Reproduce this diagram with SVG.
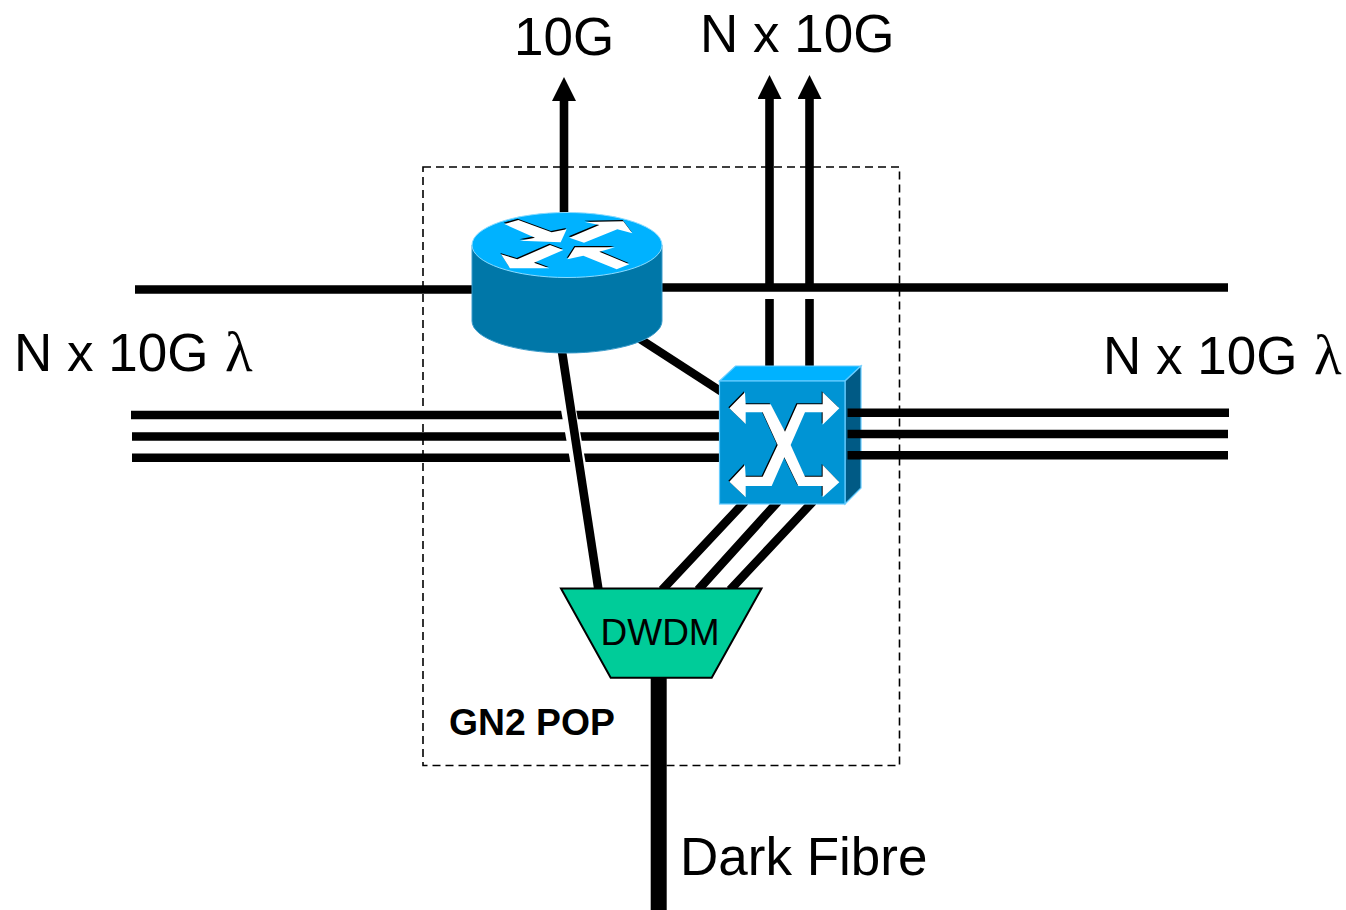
<svg xmlns="http://www.w3.org/2000/svg" width="1346" height="910" viewBox="0 0 1346 910">
<style>
text{font-family:"Liberation Sans",Arial,sans-serif;fill:#000}
.big{font-size:53px}
.lam{font-family:"Liberation Serif","DejaVu Serif",serif;font-size:57px}
.w{stroke:#000;stroke-width:8.6;fill:none}
.halo{stroke:#fff;fill:none}
</style>
<defs>
<marker id="arrow" markerUnits="userSpaceOnUse" markerWidth="24" markerHeight="24" viewBox="0 0 24 24" refX="1" refY="12" orient="auto"><path d="M0 0L24 12L0 24Z" fill="#000"/></marker>
</defs>
<g id="pop-box"><rect x="423" y="167" width="476.5" height="598.5" fill="none" stroke="#000" stroke-width="1.6" stroke-dasharray="8 5"/></g>
<g id="connectors">
<path class="w" d="M564 213V100" marker-end="url(#arrow)"/>
<path class="w" d="M769.5 284V98" marker-end="url(#arrow)"/>
<path class="w" d="M809.5 284V98" marker-end="url(#arrow)"/>
<path class="w" d="M135 289.5H480"/>
<path class="w" d="M650 287.5H1228"/>
<path class="w" d="M769.5 299V377M809.5 299V377"/>
<path class="w" d="M131 415H725M132 436.5H725M132 457.8H725"/>
<path class="halo" stroke-width="15" d="M567.7 405L579 468"/>
<path class="w" d="M561 345L598.5 590"/>
<path class="w" d="M640 339L725 394"/>
<path class="w" d="M745 501.5L662 590M778 501.5L698 590M813 501.5L730 590"/>
<path stroke="#000" stroke-width="16" fill="none" d="M658.7 670V910"/>
</g>
<g id="router">
<path d="M472 245V321A95 32 0 0 0 662 321V245Z" fill="#0077A8"/>
<path d="M472 245V321A95 32 0 0 0 662 321V245" fill="none" stroke="#3C9CCB" stroke-width="1"/>
<ellipse cx="567" cy="245" rx="95" ry="32.5" fill="#00B2FF" stroke="#8ADBFF" stroke-width="1"/>
<g transform="translate(460 200) scale(.33333)">
<g fill="#000" transform="translate(-2 -4)">
<polygon points="133,72 175,60 275,97 320,88 302,127 180,122 225,113"/>
<polygon points="328,113 418,75 375,66 490,64 517,100 472,88 372,128"/>
<polygon points="310,150 270,135 172,178 123,163 150,205 268,205 222,188"/>
<polygon points="322,178 345,142 465,142 418,155 508,193 470,208 370,167"/>
</g>
<g fill="#fff">
<polygon points="133,72 175,60 275,97 320,88 302,127 180,122 225,113"/>
<polygon points="328,113 418,75 375,66 490,64 517,100 472,88 372,128"/>
<polygon points="310,150 270,135 172,178 123,163 150,205 268,205 222,188"/>
<polygon points="322,178 345,142 465,142 418,155 508,193 470,208 370,167"/>
</g>
</g>
</g>
<g id="switch">
<polygon points="719.5,381 735.5,366 861,366 845,381" fill="#00B2FF" stroke="#66CCFF" stroke-width="1.2"/>
<polygon points="845,381 861,366 861,488 845,504" fill="#005A85" stroke="#66CCFF" stroke-width="1.2"/>
<rect x="719.5" y="381" width="125.5" height="123" fill="#0094D4" stroke="#66CCFF" stroke-width="1.2"/>
<g transform="translate(700 350) scale(.33333)">
<polygon fill="#000" transform="translate(-3 -3)" points="88,175 135,127 137,163 212,163 255,245 292,163 368,163 368,127 418,175 368,224 368,187 315,187 272,285 315,380 368,380 368,345 418,397 368,442 368,408 295,408 253,322 215,408 137,408 137,442 88,395 135,345 137,380 188,380 233,285 188,187 137,187 137,222"/>
<polygon fill="#fff" points="88,175 135,127 137,163 212,163 255,245 292,163 368,163 368,127 418,175 368,224 368,187 315,187 272,285 315,380 368,380 368,345 418,397 368,442 368,408 295,408 253,322 215,408 137,408 137,442 88,395 135,345 137,380 188,380 233,285 188,187 137,187 137,222"/>
</g>
</g>
<g id="wave-lines-right"><path class="w" d="M847.5 412.7H1229M847.5 434H1228M847.5 455.3H1228"/></g>
<g id="dwdm">
<polygon points="561,588.5 761.5,588.5 711.7,677.7 610.7,677.7" fill="#00CC99" stroke="#000" stroke-width="2"/>
<text x="600.5" y="645" font-size="37">DWDM</text>
</g>
<g id="labels">
<text class="big" x="514" y="54.5">10G</text>
<text class="big" x="700" y="52">N x 10G</text>
<text class="big" x="14" y="371">N x 10G <tspan class="lam" x="225">λ</tspan></text>
<text class="big" x="1103" y="374">N x 10G <tspan class="lam" x="1314">λ</tspan></text>
<text class="big" x="680" y="875">Dark Fibre</text>
<text x="449" y="735" font-size="37.3" font-weight="700">GN2 POP</text>
</g>
</svg>
